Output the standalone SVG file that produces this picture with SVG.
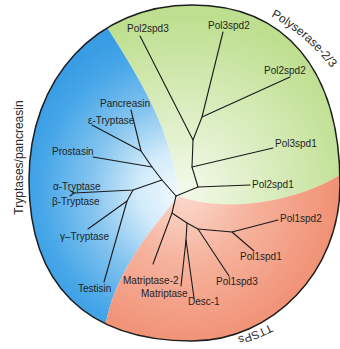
<svg xmlns="http://www.w3.org/2000/svg" width="340" height="349" viewBox="0 0 340 349">
<style>
.lbl{font-family:"Liberation Sans",Arial,sans-serif;font-size:10px;fill:#1f1f1f}
.grp{font-family:"Liberation Sans",Arial,sans-serif;font-size:12px;fill:#2a2a2a}
.edge{stroke:#1a1a1a;stroke-width:1.1;fill:none;stroke-linecap:round;stroke-linejoin:round}
</style>
<defs>
<clipPath id="clip"><path d="M29,180 C29,78 97,5 192,5 C284,5 340,68 340,185 C340,271 273,341 192,341 C86,341 29,284 29,180 Z"/></clipPath>
<radialGradient id="gBlue" gradientUnits="userSpaceOnUse" cx="180" cy="192" r="165">
<stop offset="0" stop-color="#f2f9fe"/><stop offset="0.25" stop-color="#d2ebfa"/><stop offset="0.55" stop-color="#82c3ef"/><stop offset="0.85" stop-color="#46a6e8"/><stop offset="1" stop-color="#3a9de4"/>
</radialGradient>
<radialGradient id="gGreen" gradientUnits="userSpaceOnUse" cx="185" cy="190" r="175">
<stop offset="0" stop-color="#f3f9ea"/><stop offset="0.4" stop-color="#deefc6"/><stop offset="1" stop-color="#bedf8f"/>
</radialGradient>
<radialGradient id="gRed" gradientUnits="userSpaceOnUse" cx="185" cy="195" r="160">
<stop offset="0" stop-color="#fbd9cc"/><stop offset="0.4" stop-color="#f6b49f"/><stop offset="1" stop-color="#f08e71"/>
</radialGradient>
<path id="arcTop" d="M270.9,16.4 A183,183 0 0 1 365.2,146.2"/>
<path id="arcBot" d="M270.1,323.9 A173.5,173.5 0 0 1 159.9,340.9"/>
</defs>
<g id="regions" clip-path="url(#clip)">
<path id="green-region" fill="url(#gGreen)" d="M80,0 L97,12 L110,32 C140,80 172,130 179,196 C220,212 290,205 340,175 L345,175 L345,0 Z"/>
<path id="blue-region" fill="url(#gBlue)" d="M80,0 L97,12 L110,32 C140,80 172,130 179,196 C150,230 118,270 107,318 L100,349 L0,349 L0,0 Z"/>
<path id="red-region" fill="url(#gRed)" d="M179,196 C150,230 118,270 107,318 L100,349 L345,349 L345,175 L340,175 C290,205 220,212 179,196 Z"/>
</g>
<path id="outline" d="M29,180 C29,78 97,5 192,5 C284,5 340,68 340,185 C340,271 273,341 192,341 C86,341 29,284 29,180 Z" fill="none" stroke="#1e1e1e" stroke-width="1.5"/>
<g id="connectors" class="edge">
<path d="M140,36 L193,140 L192,167 L198,187 L176,196"/>
<path d="M223,32 L202,117 L193,140"/>
<path d="M290,77 L202,117"/>
<path d="M273,148 L192,167"/>
<path d="M250,185 L198,187"/>
<path d="M176,196 L172,213 L153,264"/>
<path d="M172,213 L187,223 L186,240 L181,286"/>
<path d="M186,240 L194,298"/>
<path d="M187,223 L198,229 L229,276"/>
<path d="M198,229 L232,232 L278,220"/>
<path d="M232,232 L254,251"/>
<path d="M176,196 L162,180 L152,167 L93,157"/>
<path d="M152,167 L141,151 L131,110"/>
<path d="M141,151 L92,125"/>
<path d="M162,180 L133,190 L74,193 L70,190.5"/>
<path d="M74,193 L70,196"/>
<path d="M133,190 L127,201 L88,229"/>
<path d="M127,201 L104,282"/>
</g>
<g id="n-pol2spd3"><text class="lbl" x="127" y="32">Pol2spd3</text></g>
<g id="n-pol3spd2"><text class="lbl" x="208" y="28.5">Pol3spd2</text></g>
<g id="n-pol2spd2"><text class="lbl" x="264" y="74">Pol2spd2</text></g>
<g id="n-pol3spd1"><text class="lbl" x="275" y="147">Pol3spd1</text></g>
<g id="n-pol2spd1"><text class="lbl" x="252" y="188">Pol2spd1</text></g>
<g id="n-pol1spd2"><text class="lbl" x="280" y="222">Pol1spd2</text></g>
<g id="n-pol1spd1"><text class="lbl" x="240" y="260">Pol1spd1</text></g>
<g id="n-pol1spd3"><text class="lbl" x="216" y="285">Pol1spd3</text></g>
<g id="n-desc1"><text class="lbl" x="188" y="305">Desc-1</text></g>
<g id="n-matriptase"><text class="lbl" x="141" y="297">Matriptase</text></g>
<g id="n-matriptase2"><text class="lbl" x="123" y="284">Matriptase-2</text></g>
<g id="n-testisin"><text class="lbl" x="78" y="292">Testisin</text></g>
<g id="n-gtryptase"><text class="lbl" x="60" y="240">γ–Tryptase</text></g>
<g id="n-btryptase"><text class="lbl" x="52" y="205">β-Tryptase</text></g>
<g id="n-atryptase"><text class="lbl" x="53" y="190">α-Tryptase</text></g>
<g id="n-prostasin"><text class="lbl" x="52" y="155">Prostasin</text></g>
<g id="n-etryptase"><text class="lbl" x="88" y="124">ε-Tryptase</text></g>
<g id="n-pancreasin"><text class="lbl" x="100" y="107">Pancreasin</text></g>
<g id="group-labels">
<text class="grp" transform="translate(23,157.5) rotate(-90)" text-anchor="middle">Tryptases/pancreasin</text>
<text class="grp"><textPath href="#arcTop">Polyserase-2/3</textPath></text>
<text class="grp" style="font-size:11.5px"><textPath href="#arcBot">TTSPs</textPath></text>
</g>
</svg>
